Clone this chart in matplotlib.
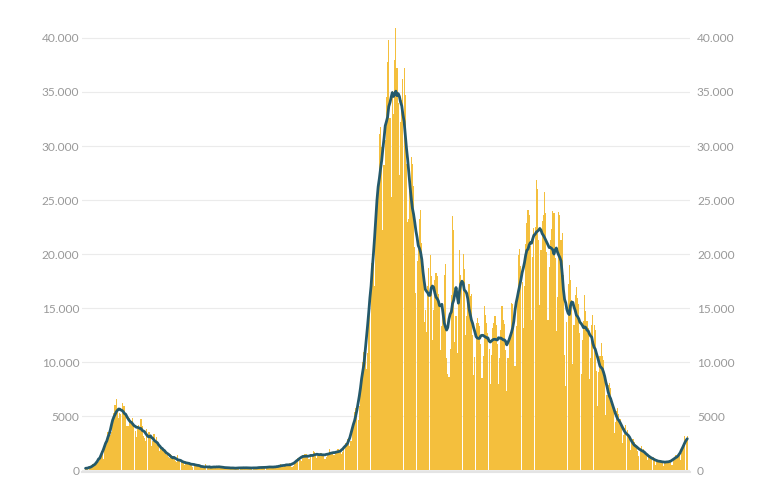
import matplotlib
matplotlib.use("Agg")
import matplotlib.pyplot as plt
import matplotlib.transforms as mtransforms
import numpy as np
import pandas as pd

# daily new cases, 24 Feb 2020 - 18 Jul 2021
feb_2020 = [221, 93, 78, 250, 238, 240]
mar_2020 = [561, 347, 466, 587, 769, 778, 1247, 1492, 1797, 977, 2313, 2651, 2547, 3497, 3590, 3233,
            3526, 4207, 5322, 5986, 6557, 5560, 4789, 5249, 5210, 6203, 5909, 5974, 5217, 4050, 4053]
apr_2020 = [4782, 4668, 4585, 4805, 4316, 3599, 3039, 3836, 4204, 3951, 4694, 4092, 3153, 2972, 2667,
            3786, 3493, 3491, 3047, 2256, 2729, 3370, 2646, 3021, 2357, 2324, 1739, 2091, 2086, 1872]
may_2020 = [1965, 1900, 1389, 1221, 1075, 1444, 1401, 1327, 1083, 802, 744, 1402, 888, 992, 789, 875,
            675, 451, 813, 665, 642, 652, 669, 531, 300, 397, 584, 593, 516, 416, 355]
jun_2020 = [178, 318, 321, 177, 518, 270, 197, 280, 283, 202, 379, 163, 346, 338, 301, 210, 329, 333,
            251, 262, 224, 218, 122, 190, 296, 259, 175, 174, 126, 142]
jul_2020 = [182, 201, 223, 235, 192, 208, 138, 193, 229, 276, 188, 234, 169, 114, 162, 230, 233, 249,
            219, 190, 129, 282, 306, 252, 275, 255, 170, 212, 289, 386, 379]
aug_2020 = [295, 239, 159, 190, 384, 402, 552, 347, 463, 259, 412, 481, 523, 574, 629, 479, 320, 403,
            642, 845, 947, 1071, 1210, 953, 878, 1367, 1411, 1462, 1444, 1365, 996]
sep_2020 = [978, 1326, 1397, 1733, 1695, 1297, 1108, 1370, 1434, 1597, 1616, 1501, 1458, 1008, 1229,
            1452, 1585, 1907, 1638, 1587, 1350, 1392, 1640, 1786, 1912, 1869, 1766, 1494, 1648, 1851]
oct_2020 = [2548, 2499, 2844, 2578, 2257, 2677, 3678, 4458, 5372, 5724, 5456, 4619, 5901, 7332, 8804,
            10010, 10925, 11705, 9338, 10874, 15199, 16079, 19143, 19644, 21273, 17012, 21994, 24991,
            26831, 31084, 31758]
nov_2020 = [29907, 22253, 28244, 30550, 34505, 37809, 39811, 32616, 25271, 35098, 32961, 37978, 40902,
            37255, 33979, 27354, 32191, 34283, 36176, 37242, 34767, 28337, 22930, 23232, 25853, 29003,
            28352, 26323, 20648, 16377]
dec_2020 = [19350, 20709, 23225, 24099, 21052, 18887, 13720, 14842, 12756, 16999, 18727, 19903, 17938,
            12030, 14844, 17572, 18236, 17992, 16308, 15104, 11104, 13318, 14522, 18040, 19037, 10407,
            8913, 8585, 11212, 16202, 23477]
jan_2021 = [22211, 11831, 14245, 10800, 15378, 20331, 18020, 17533, 19978, 18627, 12533, 14242, 15774,
            17246, 16146, 16310, 12545, 8824, 10497, 13571, 14078, 13633, 13331, 11629, 8561, 10593,
            15204, 14372, 13574, 12715, 11252]
feb_2021 = [7925, 10630, 13189, 13659, 14218, 13442, 11641, 7970, 10404, 12956, 15146, 13908, 13532,
            11068, 7351, 10386, 12074, 12800, 15479, 15370, 13452, 9630, 13314, 16424, 19886, 20499,
            18916, 17455]
mar_2021 = [13114, 17083, 20884, 22865, 24036, 23641, 20765, 13902, 19749, 22409, 22500, 26824, 26062,
            21315, 15267, 20396, 23059, 23649, 25735, 23832, 20159, 13846, 18765, 21267, 22340, 23985,
            23839, 19611, 12916, 16017, 23904]
apr_2021 = [23649, 21261, 21932, 18025, 10680, 7767, 13708, 17221, 18938, 17567, 15746, 9789, 13447,
            16168, 16974, 15943, 15370, 12694, 8864, 12074, 13844, 16232, 14761, 13817, 13158, 8444,
            10404, 13385, 14320, 13446]
may_2021 = [12965, 9148, 5948, 9116, 10585, 11807, 10554, 10176, 8292, 5080, 6946, 7852, 8085, 7567,
            6659, 5753, 3455, 4452, 5506, 5741, 5218, 4717, 3995, 2490, 3224, 3937, 4147, 3738, 3351,
            2949, 1820]
jun_2021 = [2483, 2897, 2557, 2436, 2275, 1752, 1273, 1896, 2199, 1901, 1950, 1723, 1390, 907, 1255,
            1400, 1327, 1197, 1161, 881, 495, 835, 951, 927, 952, 794, 778, 389, 679, 776]
jul_2021 = [882, 794, 932, 808, 480, 907, 1010, 1394, 1390, 1400, 1391, 888, 1554, 2153, 2455, 3127,
            2898, 3121]

y_ticks = [0, 5000, 10000, 15000, 20000, 25000, 30000, 35000, 40000]
y_labels = ["0", "5000", "10.000", "15.000", "20.000", "25.000", "30.000", "35.000", "40.000"]

cases = (feb_2020 + mar_2020 + apr_2020 + may_2020 + jun_2020 + jul_2020 + aug_2020 + sep_2020
         + oct_2020 + nov_2020 + dec_2020 + jan_2021 + feb_2021 + mar_2021 + apr_2021 + may_2021
         + jun_2021 + jul_2021)
df = pd.DataFrame({"cases": cases})
# 7-day average line
df["avg"] = df["cases"].rolling(7, center=True, min_periods=1).mean()
days = np.arange(len(df))

plt.rcParams["font.family"] = ["Lato", "DejaVu Sans"]

fig = plt.figure(figsize=(7.68, 4.8), dpi=100)
ax = fig.add_axes([82 / 768, 0.01625, 608 / 768, 0.9496])

ax.bar(days, df["cases"], width=0.95, color="#f4bf3d", linewidth=0, zorder=2)
ax.plot(days, df["avg"], color="#24596b", linewidth=2.0, zorder=3, solid_capstyle="round")

ax.set_xlim(-3, 512.3)
ax.set_ylim(-200, 42000)
ax.set_xticks([])
ax.set_yticks(y_ticks)
ax.set_yticklabels(y_labels)
ax.tick_params(axis="y", length=0, labelsize=8.6, labelcolor="#999999", pad=2,
               labelleft=True, labelright=True)
ax.grid(axis="y", color="#ebebeb", linewidth=0.8, zorder=0)
ax.set_axisbelow(True)

for side in ["top", "left", "right"]:
    ax.spines[side].set_visible(False)
ax.spines["bottom"].set_color("#e4e4e4")
ax.spines["bottom"].set_linewidth(1.5)

# right-hand labels sit a little further out
offset = mtransforms.ScaledTranslation(3 / 72, 0, fig.dpi_scale_trans)
for t in ax.yaxis.get_major_ticks():
    t.label2.set_transform(t.label2.get_transform() + offset)

fig.savefig("out.png", dpi=100, facecolor="white")
